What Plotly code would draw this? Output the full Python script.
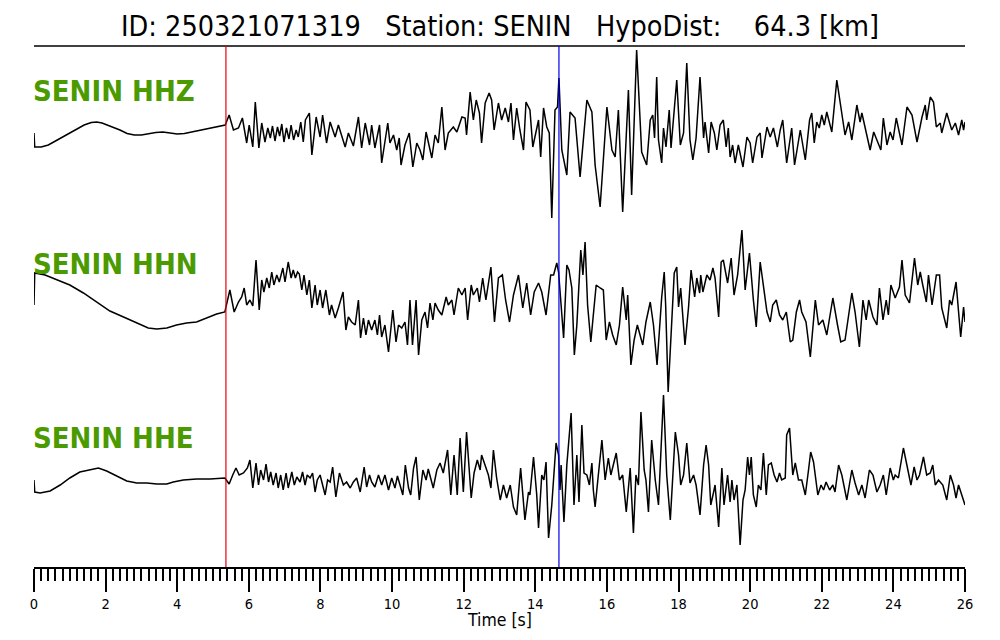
import plotly.graph_objects as go

# ---------------- data ----------------
CHANNELS = ["SENIN HHZ", "SENIN HHN", "SENIN HHE"]
TITLE = "ID: 250321071319   Station: SENIN   HypoDist:    64.3 [km]"
X_LABEL = "Time [s]"
P_PICK = 5.36
S_PICK = 14.66
X_TICKS = [0, 2, 4, 6, 8, 10, 12, 14, 16, 18, 20, 22, 24, 26]

# HHZ (time [s], amplitude)
HHZ_T = [
    0.0, 0.02, 0.2, 0.4, 0.6, 0.8, 1.0, 1.2, 1.4, 1.6,
    1.75, 1.9, 2.05, 2.2, 2.4, 2.6, 2.8, 3.0, 3.2, 3.4,
    3.6, 3.8, 4.0, 4.2, 4.4, 4.6, 4.8, 5.0, 5.2, 5.34,
    5.45, 5.57, 5.71, 5.82, 5.94, 6.01, 6.11, 6.18, 6.28, 6.36,
    6.45, 6.53, 6.6, 6.66, 6.73, 6.8, 6.86, 6.92, 6.98, 7.05,
    7.12, 7.18, 7.25, 7.32, 7.38, 7.45, 7.52, 7.58, 7.69, 7.76,
    7.88, 7.99, 8.06, 8.17, 8.27, 8.41, 8.5,
    8.69, 8.78, 8.92, 9.06, 9.15, 9.25, 9.37, 9.43, 9.52, 9.65,
    9.71, 9.88, 9.94, 10.04, 10.13, 10.2, 10.25, 10.36, 10.48, 10.58,
    10.69, 10.78, 10.86, 10.95, 11.06, 11.11, 11.2, 11.29, 11.39, 11.48,
    11.57, 11.71, 11.81, 11.95, 12.04, 12.08, 12.18, 12.27, 12.35, 12.44,
    12.5, 12.6, 12.71, 12.78, 12.85, 12.97, 13.06, 13.16, 13.25, 13.32,
    13.39, 13.48, 13.57, 13.67, 13.74, 13.85, 13.93, 14.09, 14.15, 14.23,
    14.32, 14.39, 14.46, 14.55, 14.62, 14.66, 14.74, 14.88, 14.97, 15.11,
    15.25, 15.44, 15.58, 15.67, 15.81, 16.0, 16.14, 16.23, 16.32, 16.44,
    16.6, 16.69, 16.83, 16.97, 17.11, 17.21, 17.28, 17.33, 17.39, 17.44,
    17.53, 17.58, 17.65, 17.74, 17.79, 17.86, 17.95, 18.05, 18.14, 18.23,
    18.32, 18.4, 18.49, 18.6, 18.7, 18.74, 18.84, 18.91, 19.0, 19.07,
    19.16, 19.25, 19.33, 19.39, 19.44, 19.51, 19.58, 19.67, 19.8, 19.91,
    20.0, 20.07, 20.19, 20.28, 20.33, 20.47, 20.56, 20.65, 20.76, 20.84,
    20.91, 21.02, 21.16, 21.24, 21.4, 21.54, 21.66, 21.72, 21.79, 21.86,
    21.93, 22.0, 22.07, 22.14, 22.28, 22.42, 22.56, 22.65, 22.75, 22.84,
    22.98, 23.07, 23.12, 23.24, 23.35, 23.45, 23.54, 23.65, 23.72, 23.82,
    23.91, 23.99, 24.08, 24.24, 24.38, 24.52, 24.66, 24.8, 24.89, 24.93,
    25.03, 25.12, 25.2, 25.31, 25.35, 25.49, 25.63, 25.73, 25.82, 25.91,
    25.96, 26.0,
]
HHZ_A = [
    -3, -17, -17, -15, -11, -7, -3, 1, 5, 7.5,
    8, 7, 5, 3, 0, -3.5, -5, -5, -3.5, -2.5,
    -2, -3, -4, -3.5, -2, 0, 1.5, 2.5, 4, 5,
    15, 0, 2, 12, -13, 5, -17, 28, -18, 7,
    -12, 2, -8, 4, -11, 3, -6, 6, -12, 2,
    -9, 5, -10, 0, -7, 8, -12, 10, 17, -25,
    13, -7, 15, -13, 8, -7, 5,
    -17, -3, -16, 13, -18, 7, -15, 5, -18, 5,
    -33, 7, -13, -5, -20, -8, -35, -15, -3, -37,
    -13, -20, -30, -2, -18, -28, -5, -13, 23, -20,
    -3, 3, -2, 13, 12, -5, 38, 10, 30, 17,
    -13, 27, 37, 30, 0, 27, 10, 22, 8, 27,
    -10, 22, 0, -20, 28, 20, -17, 10, -27, 22,
    3, -3, -88, 20, 23, 52, -20, -45, 18, 12,
    -47, 30, 18, -35, -77, 23, -20, -27, 20, -82,
    40, -65, 80, -22, -35, 10, 15, -8, 53, -10,
    -33, 2, -17, 20, -18, 10, 50, -15, -3, 67,
    -10, -30, -8, 53, -8, 8, -23, 8, -3, -20,
    5, 10, -17, 2, -27, -15, -33, -15, -37, -7,
    -13, -33, -7, -3, -28, 3, -7, 2, -17, 0,
    10, -33, 2, -35, 0, -30, 10, 17, -13, 8,
    2, 15, 5, 18, -2, 50, 17, -5, 8, -10,
    25, 8, 17, -3, -20, -2, -10, -20, 12, -15,
    -2, -10, 12, -15, 23, 15, -12, 13, 25, 10,
    33, 28, 3, 7, -3, 17, 0, 7, -5, 10,
    0, 8,
]

# HHN (time [s], amplitude)
HHN_T = [
    0.0, 0.02, 0.31, 0.63, 1.0, 1.38, 1.75, 2.12, 2.5, 2.87,
    3.19, 3.43, 3.71, 3.98, 4.26, 4.54, 4.82, 5.1, 5.33,
    5.47, 5.59, 5.71, 5.8, 5.87, 5.94, 6.03, 6.11, 6.2, 6.29,
    6.36, 6.42, 6.5, 6.57, 6.64, 6.7, 6.78, 6.85, 6.95, 7.01,
    7.1, 7.18, 7.24, 7.3, 7.36, 7.41, 7.48, 7.54, 7.62, 7.69,
    7.76, 7.85, 7.91, 7.99, 8.06, 8.15, 8.25, 8.31, 8.41, 8.5,
    8.63, 8.71, 8.78, 8.87, 8.97, 9.06, 9.12, 9.2, 9.27, 9.34,
    9.43, 9.52, 9.59, 9.65, 9.71, 9.8, 9.9, 10.02, 10.11, 10.18,
    10.27, 10.36, 10.43, 10.5, 10.57, 10.67, 10.74, 10.83, 10.92, 10.99,
    11.06, 11.14, 11.2, 11.29, 11.39, 11.51, 11.57, 11.67, 11.73, 11.85,
    11.95, 12.04, 12.11, 12.21, 12.27, 12.38, 12.44, 12.53, 12.62, 12.76,
    12.86, 12.97, 13.08, 13.17, 13.28, 13.39, 13.53, 13.65, 13.76, 13.87,
    13.97, 14.09, 14.18, 14.3, 14.43, 14.51, 14.6, 14.65, 14.71, 14.79,
    14.88, 14.94, 15.02, 15.09, 15.16, 15.27, 15.33, 15.39, 15.46, 15.55,
    15.62, 15.7, 15.81, 15.9, 15.98, 16.07, 16.16, 16.26, 16.35, 16.44,
    16.54, 16.58, 16.67, 16.76, 16.85, 16.93, 17.0, 17.09, 17.21, 17.3,
    17.4, 17.53, 17.6, 17.64, 17.71, 17.88, 17.95, 18.0, 18.06, 18.18,
    18.28, 18.35, 18.45, 18.51, 18.59, 18.62, 18.68, 18.79, 18.88, 18.96,
    19.02, 19.12, 19.19, 19.25, 19.37, 19.47, 19.55, 19.65, 19.77, 19.86,
    19.98, 20.09, 20.17, 20.28, 20.39, 20.47, 20.56, 20.63, 20.73, 20.82,
    20.91, 21.01, 21.12, 21.19, 21.29, 21.38, 21.44, 21.56, 21.68, 21.82,
    21.91, 22.03, 22.14, 22.31, 22.44, 22.53, 22.65, 22.75, 22.84, 22.93,
    23.05, 23.15, 23.24, 23.31, 23.43, 23.54, 23.61, 23.71, 23.8, 23.86,
    23.93, 24.05, 24.17, 24.24, 24.33, 24.45, 24.59, 24.68, 24.75, 24.82,
    24.92, 24.98, 25.08, 25.2, 25.29, 25.35, 25.49, 25.57, 25.63, 25.75,
    25.82, 25.88, 25.96, 26.0,
]
HHN_A = [
    -5, 27, 25, 20, 15, 7, -2, -11, -17, -23,
    -28, -29, -28, -25, -23, -22, -18, -14, -12,
    10, -12, -2, 3, 12, -5, 0, -6, 40, -10,
    20, 8, 22, 12, 28, 15, 25, 18, 32, 18,
    38, 22, 30, 22, 28, 26, 10, 25, 5, 20,
    -8, 15, -5, 10, -8, 10, -15, -5, -18, -8,
    8, -30, -17, -22, -25, 0, -38, -18, -35, -20,
    -30, -20, -35, -15, -37, -25, -52, -10, -42, -25,
    -28, -22, -45, 0, -45, 0, -55, -20, -12, -28,
    -3, -20, -3, -10, -15, 3, -5, 0, -15, 12,
    5, 12, -20, 15, 5, 12, -2, 22, 0, 33,
    -22, 22, 25, 0, -22, 5, 25, -8, 17, -15,
    8, 17, 8, -15, 25, 25, 37, 28, -5, -38,
    35, 30, 12, -55, -25, 50, 25, 58, -5, -42,
    -15, 15, 12, 10, -40, -22, -35, -45, -25, 13,
    -20, 5, -65, -40, -25, -35, -45, -22, -2, -25,
    -65, 3, 28, -5, -92, 27, 33, -7, 12, -45,
    -7, 30, 3, 22, 7, 25, 8, 25, 20, 32,
    22, -17, 38, 40, 17, 42, 5, 25, 70, 10,
    47, 0, -27, 38, 8, -12, -22, -5, 0, -15,
    -20, -12, -42, -40, -12, 0, -12, -22, -57, 0,
    -25, -20, -35, 2, -25, -42, -40, -15, 7, -12,
    -47, 0, -20, 0, -17, -25, 12, -20, 0, -15,
    15, 2, 13, 40, 5, -3, 42, 15, 28, 15,
    -2, 25, -5, 25, 25, -8, -28, 0, -5, 18,
    -12, -37, -7, -22,
]

# HHE (time [s], amplitude)
HHE_T = [
    0.0, 0.02, 0.17, 0.45, 0.73, 1.0, 1.28, 1.56, 1.8, 2.03,
    2.31, 2.59, 2.87, 3.15, 3.43, 3.71, 3.89, 4.17, 4.54, 4.92, 5.33,
    5.45, 5.55, 5.64, 5.73, 5.85, 5.96, 6.03, 6.11, 6.2, 6.27,
    6.33, 6.41, 6.48, 6.55, 6.61, 6.68, 6.76, 6.82, 6.89, 6.96,
    7.04, 7.1, 7.2, 7.27, 7.34, 7.43, 7.5, 7.57, 7.63, 7.71,
    7.78, 7.85, 7.91, 7.99, 8.06, 8.13, 8.2, 8.27, 8.34, 8.43,
    8.53, 8.64, 8.73, 8.83, 8.92, 9.01, 9.11, 9.22, 9.29, 9.37,
    9.43, 9.52, 9.62, 9.71, 9.8, 9.9, 9.99, 10.08, 10.15, 10.22,
    10.3, 10.37, 10.46, 10.52, 10.6, 10.67, 10.76, 10.86, 10.95, 11.01,
    11.15, 11.25, 11.34, 11.43, 11.55, 11.64, 11.73, 11.82, 11.9, 11.99,
    12.08, 12.21, 12.29, 12.38, 12.46, 12.5, 12.6, 12.69, 12.76, 12.83,
    12.92, 13.02, 13.11, 13.2, 13.3, 13.39, 13.48, 13.59, 13.71, 13.81,
    13.85, 13.95, 14.04, 14.09, 14.18, 14.24, 14.3, 14.37, 14.46, 14.51,
    14.58, 14.65, 14.69, 14.72, 14.8, 14.88, 15.0, 15.08, 15.16, 15.22,
    15.3, 15.36, 15.44, 15.51, 15.58, 15.62, 15.67, 15.76, 15.86, 15.95,
    16.04, 16.11, 16.18, 16.26, 16.35, 16.44, 16.54, 16.65, 16.74, 16.81,
    16.88, 16.95, 17.04, 17.09, 17.16, 17.25, 17.35, 17.44, 17.58, 17.67,
    17.77, 17.91, 18.0, 18.06, 18.14, 18.23, 18.32, 18.42, 18.49, 18.6,
    18.7, 18.77, 18.84, 18.9, 18.98, 19.02, 19.12, 19.21, 19.27, 19.37,
    19.44, 19.49, 19.55, 19.63, 19.72, 19.8, 19.86, 19.93, 19.98, 20.03,
    20.09, 20.17, 20.23, 20.3, 20.37, 20.45, 20.51, 20.59, 20.67, 20.75,
    20.82, 20.88, 20.98, 21.02, 21.1, 21.19, 21.26, 21.35, 21.44, 21.54,
    21.63, 21.69, 21.77, 21.89, 21.98, 22.05, 22.12, 22.22, 22.31, 22.37,
    22.47, 22.56, 22.7, 22.84, 22.93, 23.03, 23.12, 23.21, 23.33, 23.43,
    23.54, 23.63, 23.72, 23.8, 23.91, 24.0, 24.05, 24.14, 24.28, 24.38,
    24.49, 24.58, 24.66, 24.73, 24.84, 24.93, 25.03, 25.1, 25.17, 25.26,
    25.38, 25.49, 25.59, 25.68, 25.75, 25.82, 25.91, 26.0,
]
HHE_A = [
    -10, -22, -23, -21, -15, -8, -2, 0, 2, -1,
    -6, -11, -13, -13, -14, -14, -12, -10, -9, -9, -8,
    -14, -5, 2, -5, -3, 2, 10, -18, 7, -15,
    0, -10, 6, -12, -2, -15, -3, -18, -5, -20,
    -3, -18, -2, -15, -7, -12, -2, -15, -5, -8,
    -3, -22, -10, -5, -15, -25, -10, -12, 3, -27,
    -3, -15, -12, -18, -12, -8, -22, 3, -17, -5,
    -12, -17, -5, -15, -5, -20, -8, -18, -6, -15,
    -25, 5, -18, -25, 2, 13, -30, 0, -10, 1,
    -18, 0, 7, -3, 20, -25, 15, -25, 32, -22,
    38, -28, -3, 10, 0, 15, 5, -5, -18, 20,
    -8, -30, -15, -28, -15, -37, -45, 2, -50, -22,
    -25, 13, -25, -58, -5, -10, 8, -68, -35, -5,
    27, 15, -20, 5, -52, 5, 57, -35, 15, -32,
    45, -3, -5, -15, 7, -20, -37, -5, 30, -10,
    12, -5, 5, 17, -10, -5, -42, 2, -63, -5,
    -15, 58, 0, -10, -42, 30, -10, -35, 75, -5,
    -50, 38, 15, -15, -5, 27, -13, -5, -15, -45,
    5, 25, 5, -35, -22, -15, -57, 2, -35, -5,
    -32, -10, -30, -15, -75, -30, -20, 13, -5, 13,
    -25, -37, -15, -20, 17, -25, 5, 7, -5, -12,
    -3, -10, -8, 35, 42, -5, 7, -10, -10, -25,
    0, 18, 8, -25, -15, -20, -12, -20, -15, -22,
    5, -5, -30, 0, -13, -25, -15, -28, 0, -5,
    -22, -15, -5, -25, 2, -10, -5, -8, 22, 3,
    -15, 3, -10, -5, 13, -5, -3, 5, -15, -10,
    -15, -30, -5, -15, -28, -15, -25, -35,
]

# ---------------- layout / style ----------------
TRACE_TIMES = [HHZ_T, HHN_T, HHE_T]
TRACE_AMPS = [HHZ_A, HHN_A, HHE_A]
TRACE_OFFSETS = [0, -170, -340]
LABEL_SHIFT = [39, 36, 32]
FONT = "DejaVu Sans Condensed, DejaVu Sans, sans-serif"
GREEN = "#4a9a00"

fig = go.Figure()
for times, amps, off in zip(TRACE_TIMES, TRACE_AMPS, TRACE_OFFSETS):
    assert len(times) == len(amps), (len(times), len(amps))
    fig.add_trace(go.Scatter(
        x=times, y=[a + off for a in amps], mode="lines",
        line=dict(color="black", width=1.5), hoverinfo="skip",
    ))

annotations = []
for name, off, sh in zip(CHANNELS, TRACE_OFFSETS, LABEL_SHIFT):
    annotations.append(dict(
        text="<b>" + name + "</b>", xref="paper", x=-0.002, xanchor="left",
        yref="y", y=off + sh, yanchor="middle", showarrow=False,
        font=dict(family=FONT, size=29, color=GREEN), borderpad=0,
    ))
annotations.append(dict(
    text=TITLE.replace(" ", "\u00a0"), xref="paper", x=0.5, xanchor="center",
    yref="paper", y=1.0365, yanchor="middle", showarrow=False,
    font=dict(family=FONT, size=28.5, color="black"),
))
annotations.append(dict(
    text=X_LABEL, xref="paper", x=0.5, xanchor="center",
    yref="paper", y=-0.102, yanchor="middle", showarrow=False,
    font=dict(family=FONT, size=17.5, color="black"), borderpad=0,
))

shapes = [
    dict(type="line", xref="paper", yref="paper", x0=0, x1=1, y0=1, y1=1,
         line=dict(color="black", width=1.5)),
    dict(type="line", xref="x", yref="paper", x0=P_PICK, x1=P_PICK, y0=0, y1=1,
         line=dict(color="#e8000b", width=1.2)),
    dict(type="line", xref="x", yref="paper", x0=S_PICK, x1=S_PICK, y0=0, y1=1,
         line=dict(color="#0000e0", width=1.2)),
]

fig.update_layout(
    width=1000, height=640,
    margin=dict(l=26, r=43, t=38, b=81),
    plot_bgcolor="white", paper_bgcolor="white",
    showlegend=False,
    annotations=annotations, shapes=shapes,
    xaxis=dict(
        range=[0, 26], showgrid=False, zeroline=False,
        showline=True, linecolor="black", linewidth=2,
        ticks="outside", ticklen=23, tickwidth=2, tickcolor="black",
        tickvals=X_TICKS, ticktext=[str(v) for v in X_TICKS],
        tickfont=dict(family=FONT, size=14.5, color="black"),
        minor=dict(dtick=0.2, tick0=0, ticks="outside", ticklen=12,
                   tickwidth=2, tickcolor="black", showgrid=False),
    ),
    yaxis=dict(range=[-437, 84], visible=False),
)

fig.write_html("out.html")
